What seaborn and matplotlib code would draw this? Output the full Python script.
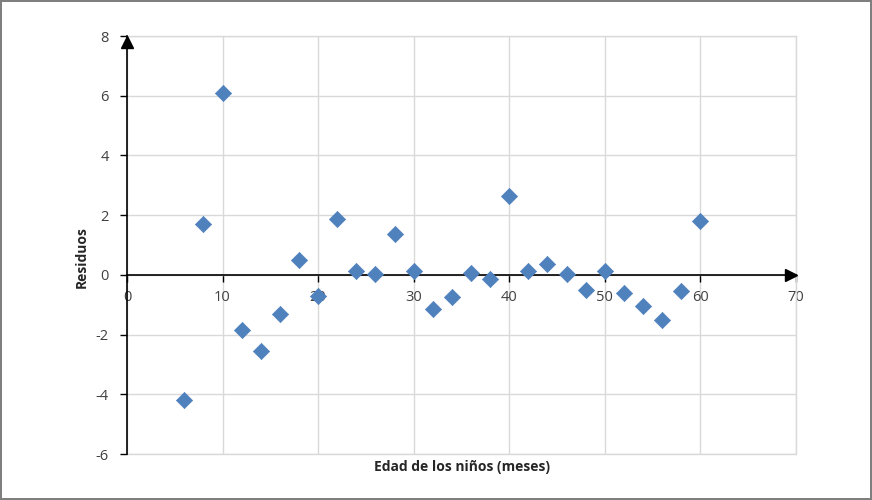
import pandas as pd
import matplotlib.pyplot as plt
import seaborn as sns

# Residuos vs edad
edad = [6, 8, 10, 12, 14, 16, 18, 20, 22, 24, 26, 28, 30, 32, 34,
        36, 38, 40, 42, 44, 46, 48, 50, 52, 54, 56, 58, 60]
residuos = [-4.2, 1.7, 6.1, -1.85, -2.55, -1.3, 0.5, -0.7, 1.87, 0.12, 0.03, 1.38, 0.12, -1.15, -0.75,
            0.07, -0.15, 2.65, 0.12, 0.35, 0.03, -0.5, 0.12, -0.6, -1.05, -1.5, -0.55, 1.8]
x_ticks = [0, 10, 20, 30, 40, 50, 60, 70]
y_ticks = [-6, -4, -2, 0, 2, 4, 6, 8]

df = pd.DataFrame({'Edad': edad, 'Residuos': residuos})

sns.set_style('white')
plt.rcParams['font.family'] = ['Open Sans', 'DejaVu Sans']
plt.rcParams['axes.unicode_minus'] = False

fig = plt.figure(figsize=(8.72, 5), dpi=100)
fig.patch.set_edgecolor('#7f7f7f')
fig.patch.set_linewidth(1.5)
ax = fig.add_axes([0.1456, 0.092, 0.7672, 0.836])

sns.scatterplot(data=df, x='Edad', y='Residuos', marker='D', s=68,
                color='#4F81BD', edgecolor='#4F81BD', linewidth=0.5, ax=ax, zorder=5, clip_on=False)

ax.set_xlim(0, 70)
ax.set_ylim(-6, 8)
ax.set_xticks(x_ticks)
ax.set_yticks(y_ticks)
ax.grid(True, color='#d9d9d9', linewidth=1)
ax.set_axisbelow(True)
# linea inferior del area de trazado
ax.axhline(-6, color='#d9d9d9', linewidth=1, zorder=0, clip_on=False)

ax.spines['left'].set_position(('data', 0))
ax.spines['bottom'].set_position(('data', 0))
for s in ['left', 'bottom']:
    ax.spines[s].set_color('black')
    ax.spines[s].set_linewidth(1.2)
    ax.spines[s].set_zorder(4)
for s in ['top', 'right']:
    ax.spines[s].set_color('#d9d9d9')
    ax.spines[s].set_linewidth(1)

ax.tick_params(axis='both', direction='out', length=5, width=1, color='black',
               labelsize=10.5, labelcolor='#404040', bottom=True, left=True)
ax.tick_params(axis='x', pad=6)
ax.tick_params(axis='y', pad=8)

# flechas de los ejes
ax.plot(0.992, 0, '>', color='black', markersize=9, transform=ax.get_yaxis_transform(), clip_on=False, zorder=6)
ax.plot(0, 0.985, '^', color='black', markersize=9, transform=ax.get_xaxis_transform(), clip_on=False, zorder=6)

ax.set_xlabel('')
ax.set_ylabel('')
fig.text(0.53, 0.066, 'Edad de los niños (meses)', ha='center', va='center',
         fontsize=10, fontweight='bold')
fig.text(0.094, 0.485, 'Residuos', ha='center', va='center', rotation=90,
         fontsize=10, fontweight='bold')

plt.savefig('out.png', dpi=100)
